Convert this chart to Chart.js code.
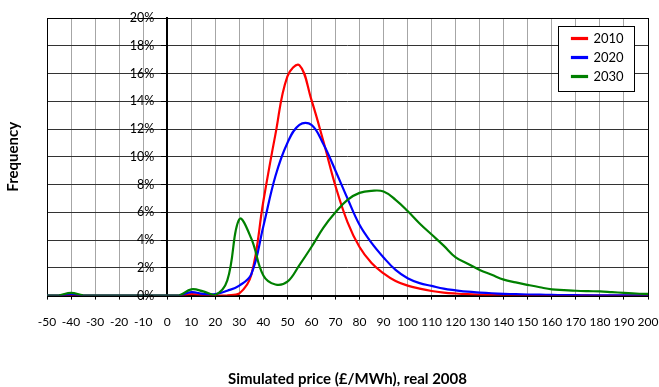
<!DOCTYPE html>
<html>
<head>
<meta charset="utf-8">
<script src="https://cdn.jsdelivr.net/npm/chart.js@4.4.0/dist/chart.umd.min.js"></script>
<style>
  html, body { margin: 0; padding: 0; background: #fff; }
  #wrap { width: 659px; height: 387px; }
</style>
</head>
<body>
<div id="wrap"><canvas id="priceChart"></canvas></div>
<script>
// price bins (£/MWh, real 2008)
var prices = [-50, -45, -40, -35, -30, -25, -20, -15, -10, -5,
              0, 5, 10, 15, 20, 25, 30, 35, 40, 45,
              50, 55, 60, 65, 70, 75, 80, 85, 90, 95,
              100, 105, 110, 115, 120, 125, 130, 135, 140, 145,
              150, 155, 160, 165, 170, 175, 180, 185, 190, 195,
              200];

// frequency of each price bin, %
var freq2010 = [0, 0, 0.03, 0, 0, 0, 0, 0, 0, 0,
                0, 0, 0.1, 0.05, 0, 0.02, 0.15, 1.5, 6.8, 11.6,
                15.8, 16.6, 14.1, 11.1, 7.9, 5.3, 3.5, 2.35, 1.6, 1.05,
                0.72, 0.5, 0.33, 0.22, 0.15, 0.1, 0.07, 0.05, 0.04, 0.03,
                0.02, 0.02, 0.01, 0.01, 0.01, 0.01, 0, 0, 0, 0,
                0];
var freq2020 = [0, 0, 0.1, 0, 0, 0, 0, 0, 0, 0,
                0, 0.02, 0.25, 0.12, 0.1, 0.35, 0.72, 1.55, 5.0, 8.6,
                11.0, 12.3, 12.3, 10.9, 9.0, 7.0, 5.1, 3.8, 2.75, 1.85,
                1.25, 0.9, 0.7, 0.5, 0.38, 0.28, 0.22, 0.17, 0.13, 0.1,
                0.08, 0.07, 0.05, 0.04, 0.03, 0.02, 0.02, 0.02, 0.02, 0.02,
                0.02];
var freq2030 = [0, 0.02, 0.2, 0.02, 0, 0, 0, 0, 0, 0,
                0, 0.02, 0.45, 0.3, 0.05, 1.1, 5.5, 4.1, 1.45, 0.8,
                1.0, 2.2, 3.5, 4.9, 6.0, 6.9, 7.4, 7.55, 7.5, 6.9,
                6.1, 5.2, 4.4, 3.6, 2.75, 2.3, 1.85, 1.5, 1.15, 0.95,
                0.77, 0.6, 0.45, 0.4, 0.35, 0.32, 0.3, 0.25, 0.2, 0.15,
                0.12];

var years = ['2010', '2020', '2030'];
var colours = ['#ff0000', '#0000ff', '#008000'];

function toPoints(values) {
    return prices.map(function (p, i) { return { x: p, y: values[i] }; });
}

Chart.defaults.font.family = 'Lato, "DejaVu Sans", sans-serif';
Chart.defaults.color = '#000';

// boxed legend inside the top-right corner of the plot, on a white panel
var legendPanel = {
    id: 'legendPanel',
    afterLayout: function (chart) {
        var lg = chart.legend, area = chart.chartArea;
        lg.width = 68;
        lg.height = 65;
        lg.left = area.right - 82;
        lg.top = area.top + 8;
        lg.right = lg.left + lg.width;
        lg.bottom = lg.top + lg.height;
    },
    afterDatasetsDraw: function (chart) {
        var lg = chart.legend, ctx = chart.ctx;
        ctx.save();
        ctx.fillStyle = '#fff';
        ctx.strokeStyle = '#000';
        ctx.lineWidth = 1;
        ctx.fillRect(lg.left - 8, lg.top, lg.width + 8, lg.height);
        ctx.strokeRect(Math.round(lg.left - 8) + 0.5, Math.round(lg.top) + 0.5, lg.width + 8, lg.height);
        ctx.restore();
        lg.draw();
    }
};

// black frame round the plot area
var plotFrame = {
    id: 'plotFrame',
    beforeDatasetsDraw: function (chart) {
        var a = chart.chartArea, ctx = chart.ctx;
        ctx.save();
        ctx.strokeStyle = '#000';
        ctx.lineWidth = 1;
        ctx.strokeRect(Math.round(a.left) + 0.5, Math.round(a.top) + 0.5,
                       Math.round(a.right - a.left), Math.round(a.bottom - a.top));
        ctx.restore();
    }
};

// percentage labels to the left of the y axis, which sits at price 0
var yAxisLabels = {
    id: 'yAxisLabels',
    afterDraw: function (chart) {
        var xs = chart.scales.x, ys = chart.scales.y, ctx = chart.ctx;
        var axisX = xs.getPixelForValue(0);
        ctx.save();
        ctx.font = '12.5px Lato, "DejaVu Sans", sans-serif';
        ctx.fillStyle = '#000';
        ctx.textAlign = 'right';
        ctx.textBaseline = 'middle';
        ys.ticks.forEach(function (t) {
            ctx.fillText(t.label, axisX - 13, ys.getPixelForValue(t.value));
        });
        ctx.restore();
    }
};

var ctx = document.getElementById('priceChart').getContext('2d');

var priceChart = new Chart(ctx, {
    type: 'line',
    data: {
        datasets: [freq2010, freq2020, freq2030].map(function (vals, i) {
            return {
                label: years[i],
                data: toPoints(vals),
                borderColor: colours[i],
                backgroundColor: colours[i],
                borderWidth: 2.2,
                pointRadius: 0,
                fill: false,
                tension: 0.4,
                order: 2 - i // later years drawn on top
            };
        })
    },
    options: {
        responsive: true,
        maintainAspectRatio: false,
        animation: false,
        layout: { padding: { top: 18, right: 11, left: 0, bottom: 0 } },
        plugins: {
            tooltip: { enabled: false },
            legend: {
                position: 'chartArea',
                align: 'start',
                labels: {
                    boxWidth: 15,
                    boxHeight: 1,
                    padding: 6,
                    color: '#000',
                    font: { size: 13 },
                    sort: function (a, b) { return a.datasetIndex - b.datasetIndex; }
                }
            }
        },
        scales: {
            x: {
                type: 'linear',
                min: -50,
                max: 200,
                ticks: { stepSize: 10, autoSkip: false, maxRotation: 0, padding: 15, font: { size: 12 } },
                grid: { color: '#a6a6a6', lineWidth: 1, tickLength: 4, tickColor: '#000' },
                border: { color: '#000', width: 1 },
                title: {
                    display: true,
                    text: 'Simulated price (£/MWh), real 2008',
                    font: { size: 15, weight: 'bold', lineHeight: 1 },
                    padding: { top: 28, bottom: 0 }
                },
                afterFit: function (scale) {
                    // only the end labels' half widths, not the label gap
                    scale.paddingLeft = 0;
                    scale.paddingRight = 11;
                }
            },
            y: {
                position: { x: 0 },
                min: 0,
                max: 20,
                ticks: {
                    display: false,
                    stepSize: 2,
                    callback: function (v) { return v + '%'; }
                },
                grid: { color: '#333', lineWidth: 1, tickLength: 5, tickColor: '#000' },
                border: { color: '#000', width: 2 }
            },
            yTitle: {
                type: 'linear',
                position: 'left',
                min: 0,
                max: 1,
                ticks: { display: false },
                grid: { display: false, drawTicks: false },
                border: { display: false },
                title: {
                    display: true,
                    text: 'Frequency',
                    font: { size: 15, weight: 'bold' },
                    padding: { top: 4, bottom: 25 }
                }
            }
        }
    },
    plugins: [plotFrame, legendPanel, yAxisLabels]
});
</script>
</body>
</html>
